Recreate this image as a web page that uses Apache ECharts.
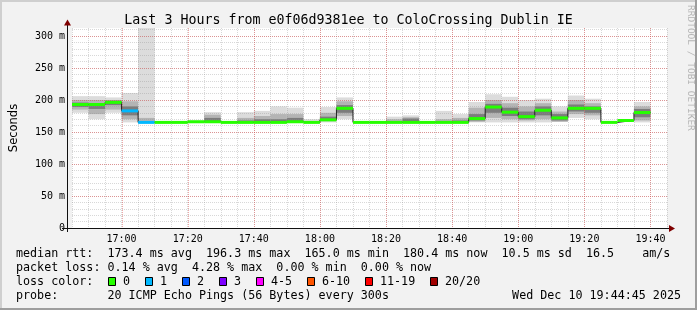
<!DOCTYPE html>
<html><head><meta charset="utf-8">
<script src="https://cdn.jsdelivr.net/npm/echarts@6/dist/echarts.min.js"></script>
<style>html,body{margin:0;padding:0;background:#f2f2f2}#c{width:697px;height:310px}</style>
</head><body><div id="c"></div>
<script>
// ---- data ----
const stepStarts = ['16:45','16:50','16:55','17:00','17:05','17:10','17:15','17:20','17:25','17:30',
  '17:35','17:40','17:45','17:50','17:55','18:00','18:05','18:10','18:15','18:20',
  '18:25','18:30','18:35','18:40','18:45','18:50','18:55','19:00','19:05','19:10',
  '19:15','19:20','19:25','19:30','19:35'];
const stepMinutes = 5;
const median = [193,193,196.3,183,165,165,165,166,166,165,
  165,165,165,166,165,169,187,165,165,165,
  165,165,165,165,171,189,181,174,184,172,
  187,187,165,168,180.4];
const lossCount = [0,0,0,1,1,0,0,0,0,0, 0,0,0,0,0,0,0,0,0,0, 0,0,0,0,0,0,0,0,0,0, 0,0,0,0,0];
const smokeLo = [180,170,180,165,165,165,null,164,165,null,
  165,165,165,165,164,165,170,null,null,165,
  165,null,165,165,165,165,165,165,165,166,
  172,170,null,null,165];
const smokeHi = [206,206,204,211,330,167,null,168,181,null,
  181,183,190,188,170,189,204,null,null,174,
  176,null,183,178,197,209,205,200,202,190,
  207,202,null,null,197];
const midLo = [185,178,185,170,165,165,null,165,166,null,
  165,165,165,166,165,167,175,null,null,165,
  166,null,165,165,166,172,170,168,170,166,
  178,176,null,null,168];
const midHi = [200,200,200,198,172,166,null,167,177,null,
  172,175,178,178,167,180,198,null,null,170,
  173,null,170,172,188,200,195,190,195,182,
  200,195,null,null,190];
const coreLo = [189,186,192,176,165,null,null,null,167,null,
  165,166,166,167,null,168,180,null,null,165,
  167,null,165,165,168,180,175,170,176,168,
  182,180,null,null,173];
const coreHi = [196,195,199,190,167,null,null,null,172,null,
  168,170,170,172,null,174,192,null,null,167,
  171,null,167,168,178,194,188,182,190,178,
  193,190,null,null,186];
const xTickLabels = ['17:00','17:20','17:40','18:00','18:20','18:40','19:00','19:20','19:40'];
const yTickValues = [0,50,100,150,200,250,300];
const lossLegend = [['0','#26ff00'],['1','#00b8ff'],['2','#0059ff'],['3','#7e00ff'],
  ['4-5','#ff00ff'],['6-10','#ff5500'],['11-19','#ff0000'],['20/20','#a10000']];
const lossLevels = [0,1,2,3,5,10,19,20];
const titleText = 'Last 3 Hours from e0f06d9381ee to ColoCrossing Dublin IE';
const legendLine1 = 'median rtt:  173.4 ms avg  196.3 ms max  165.0 ms min  180.4 ms now  10.5 ms sd  16.5    am/s';
const legendLine2 = 'packet loss: 0.14 % avg  4.28 % max  0.00 % min  0.00 % now';
const legendLine3 = 'loss color:';
const legendLine4 = 'probe:       20 ICMP Echo Pings (56 Bytes) every 300s';
const dateText = 'Wed Dec 10 19:44:45 2025';
const xStart = '16:45', xEnd = '19:45';
const yMax = 312.5;

// ---- helpers ----
const toMin = s => { const [h, m] = s.split(':').map(Number); return h * 60 + m; };
const fmt = v => Math.floor(v / 60) + ':' + String(v % 60).padStart(2, '0');
const majorX = new Set(xTickLabels.map(toMin));
const majorY = new Set(yTickValues);
const lossColor = n => { for (let i = 0; i < lossLevels.length; i++) if (n <= lossLevels[i]) return lossLegend[i][1]; return lossLegend[lossLegend.length-1][1]; };
const MONO = '"DejaVu Sans Mono", monospace';

function smokeSeries(lo, hi, color) {
  const data = [];
  stepStarts.forEach((s, i) => { if (lo[i] != null) data.push([toMin(s), toMin(s) + stepMinutes, lo[i], hi[i]]); });
  return {
    type: 'custom', z: 1, silent: true, clip: true, data,
    encode: { x: [0, 1], y: [2, 3] },
    renderItem: (params, api) => {
      const a = api.coord([api.value(0), Math.min(api.value(3), yMax)]);
      const b = api.coord([api.value(1), api.value(2)]);
      return { type: 'rect', shape: { x: a[0], y: a[1], width: b[0] - a[0], height: b[1] - a[1] }, style: { fill: color } };
    }
  };
}

const chart = echarts.init(document.getElementById('c'), null, { renderer: 'canvas' });
const medianLine = stepStarts.map((s, i) => [toMin(s), median[i]]);
medianLine.push([toMin(stepStarts[stepStarts.length - 1]) + stepMinutes, median[median.length - 1]]);

const legendX0 = 16;
const FONT = '11.7px ' + MONO;
const graphics = [
  { type: 'rect', shape: { x: 0, y: 0, width: 697, height: 2 }, style: { fill: '#cfcfcf' }, silent: true },
  { type: 'rect', shape: { x: 0, y: 0, width: 2, height: 310 }, style: { fill: '#cfcfcf' }, silent: true },
  { type: 'rect', shape: { x: 0, y: 308, width: 697, height: 2 }, style: { fill: '#9e9e9e' }, silent: true },
  { type: 'rect', shape: { x: 695, y: 0, width: 2, height: 310 }, style: { fill: '#9e9e9e' }, silent: true },
  { type: 'line', shape: { x1: 62, y1: 228.5, x2: 670, y2: 228.5 }, style: { stroke: '#101010', lineWidth: 1 }, z: 10 },
  { type: 'line', shape: { x1: 67.5, y1: 24, x2: 67.5, y2: 232 }, style: { stroke: '#101010', lineWidth: 1 }, z: 10 },
  { type: 'polygon', shape: { points: [[67.5, 19.5], [64, 25.5], [71, 25.5]] }, style: { fill: '#7f0000' }, z: 10 },
  { type: 'polygon', shape: { points: [[675, 228.5], [669, 225], [669, 232]] }, style: { fill: '#7f0000' }, z: 10 },
  { type: 'text', x: 690, y: 5, rotation: -Math.PI / 2, style: { text: 'RRDTOOL / TOBI OETIKER', font: '9.5px ' + MONO, fill: '#b4b4b4', align: 'left', verticalAlign: 'middle' } },
  { type: 'text', x: legendX0, y: 254, style: { text: legendLine1, font: FONT, fill: '#000', verticalAlign: 'middle' } },
  { type: 'text', x: legendX0, y: 268, style: { text: legendLine2, font: FONT, fill: '#000', verticalAlign: 'middle' } },
  { type: 'text', x: legendX0, y: 282, style: { text: legendLine3, font: FONT, fill: '#000', verticalAlign: 'middle' } },
  { type: 'text', x: legendX0, y: 296, style: { text: legendLine4, font: FONT, fill: '#000', verticalAlign: 'middle' } },
  { type: 'text', x: 681, y: 296, style: { text: dateText, font: FONT, fill: '#000', align: 'right', verticalAlign: 'middle' } }
];
// loss colour legend boxes (rrdtool spacing: box, label, fixed gap)
const boxX = [108, 145, 182, 219, 256, 307, 365, 430];
lossLegend.forEach(([label, color], i) => {
  graphics.push({ type: 'rect', shape: { x: boxX[i] + 0.5, y: 277.5, width: 7, height: 8 }, style: { fill: color, stroke: '#000', lineWidth: 1 } });
  graphics.push({ type: 'text', x: boxX[i] + 15, y: 282, style: { text: label, font: FONT, fill: '#000', verticalAlign: 'middle' } });
});

chart.setOption({
  animation: false,
  backgroundColor: '#f2f2f2',
  title: { text: titleText, left: 'center', top: 9, textStyle: { fontFamily: MONO, fontSize: 13.3, fontWeight: 'normal', color: '#000' } },
  grid: { left: 67, right: 30, top: 28, bottom: 82, show: true, backgroundColor: '#ffffff', borderWidth: 0 },
  xAxis: {
    type: 'value', min: toMin(xStart), max: toMin(xEnd), interval: stepMinutes, z: 2,
    axisLine: { show: false }, axisTick: { show: false },
    axisLabel: { interval: 0, margin: 6, fontFamily: MONO, fontSize: 10, color: '#000', formatter: v => majorX.has(v) ? fmt(v) : '' },
    splitLine: { show: true, interval: 0, lineStyle: { color: 'rgba(143,143,143,0.35)', width: 1, type: [1, 1] } }
  },
  yAxis: {
    type: 'value', min: 0, max: yMax, interval: 10, z: 2,
    name: 'Seconds', nameLocation: 'middle', nameGap: 52, nameRotate: 90,
    nameTextStyle: { fontFamily: 'DejaVu Sans', fontSize: 11.5, color: '#000' },
    axisLine: { show: false }, axisTick: { show: false },
    axisLabel: { interval: 0, margin: 7, fontFamily: MONO, fontSize: 10, color: '#000', formatter: v => majorY.has(v) ? (v === 0 ? '0' : v + ' m') : '' },
    splitLine: { show: true, showMinLine: false, showMaxLine: false, interval: 0, lineStyle: { color: 'rgba(143,143,143,0.35)', width: 1, type: [1, 1] } }
  },
  series: [
    smokeSeries(smokeLo, smokeHi, '#dcdcdc'),
    smokeSeries(midLo, midHi, '#b4b4b4'),
    smokeSeries(coreLo, coreHi, '#7c7c7c'),
    {
      type: 'custom', z: 3, silent: true,
      data: xTickLabels.map(t => [toMin(t), 0]),
      encode: { x: 0, y: 1 },
      renderItem: (params, api) => {
        const cs = params.coordSys; const p = api.coord([api.value(0), 0]);
        const x = Math.round(p[0]) + 0.5;
        return { type: 'line', shape: { x1: x, y1: cs.y, x2: x, y2: cs.y + cs.height }, style: { stroke: 'rgba(222,80,80,0.5)', lineWidth: 1, lineDash: [1, 1] } };
      }
    },
    {
      type: 'custom', z: 3, silent: true,
      data: yTickValues.filter(v => v > 0).map(v => [toMin(xStart), v]),
      encode: { x: 0, y: 1 },
      renderItem: (params, api) => {
        const cs = params.coordSys; const p = api.coord([api.value(0), api.value(1)]);
        const y = Math.round(p[1]) + 0.5;
        return { type: 'line', shape: { x1: cs.x, y1: y, x2: cs.x + cs.width, y2: y }, style: { stroke: 'rgba(222,80,80,0.5)', lineWidth: 1, lineDash: [1, 1] } };
      }
    },
    {
      type: 'line', z: 4, silent: true, step: 'end', symbol: 'none', data: medianLine,
      lineStyle: { color: '#202020', width: 1 }
    },
    {
      type: 'custom', z: 5, silent: true,
      data: stepStarts.map((s, i) => [toMin(s), toMin(s) + stepMinutes, median[i], lossCount[i]]),
      encode: { x: [0, 1], y: 2 },
      renderItem: (params, api) => {
        const a = api.coord([api.value(0), api.value(2)]);
        const b = api.coord([api.value(1), api.value(2)]);
        return { type: 'rect', shape: { x: a[0], y: a[1] - 1.5, width: b[0] - a[0], height: 3 }, style: { fill: lossColor(api.value(3)) } };
      }
    }
  ],
  graphic: graphics
});
</script></body></html>
